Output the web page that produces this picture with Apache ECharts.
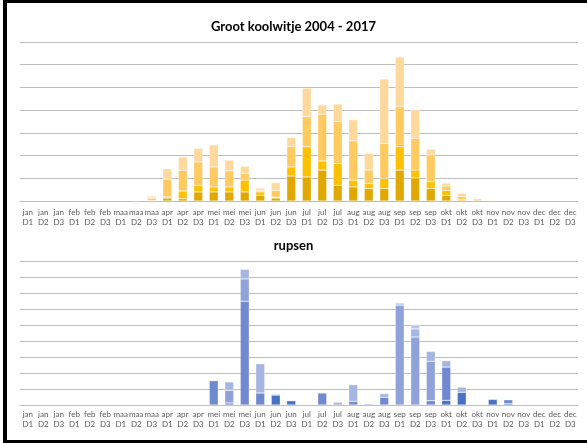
<!DOCTYPE html>
<html>
<head>
<meta charset="utf-8">
<script src="https://cdn.jsdelivr.net/npm/echarts@6/dist/echarts.min.js"></script>
<style>
html,body{margin:0;padding:0;background:#fff;}
#chart{width:587px;height:443px;}
</style>
</head>
<body>
<div id="chart"></div>
<script>
// Categories (decades per month)
const months = ['jan','feb','maa','apr','mei','jun','jul','aug','sep','okt','nov','dec'];
const decades = ['D1','D2','D3'];
const categories = [];
months.forEach(m => decades.forEach(d => categories.push(m + '\n' + d)));

// Groot koolwitje 2004 - 2017 (stacked bands, dark to light)
const vlinderDonker = [0,0,0, 0,0,0, 0,0,0.3, 1.3,1,4, 4,4,4, 2.5,1.3,11, 10.6,13.6,6.9, 6.2,5.5,5.5, 13.6,10.2,5.5, 2.5,0,0, 0,0,0, 0,0,0];
const vlinderGeel   = [0,0,0, 0,0,0, 0,0,0, 0.5,3.4,2.9, 2.2,2.2,5.2, 1.5,0.4,4, 13.3,4,9.6, 3,2.2,4.4, 10.3,3.4,3, 2.2,0.5,0, 0,0,0, 0,0,0];
const vlinderMidden = [0,0,0, 0,0,0, 0,0.1,1, 7.8,9.1,10.3, 8.8,7.1,2.9, 0.7,3,9, 13.3,20.6,18.4, 17.3,5.9,15.5, 17.7,14,11.8, 1.9,1.5,0, 0,0,0, 0,0,0];
const vlinderLicht  = [0,0,0, 0,0,0, 0,0.2,0.8, 4.6,5.9,6, 9.7,4.7,3.2, 1,3.4,4, 12.5,4.1,7.8, 9.3,7.4,28.3, 21.8,12.5,2.5, 1.3,1.4,1.0, 0.3,0,0, 0,0,0];

// rupsen (stacked bands, dark to light)
const rupsDonker    = [0,0,0, 0,0,0, 0,0,0, 0,0,0, 0,0,0, 0,6.2,2.7, 0,0,0, 0,0,0, 0,0,0, 2.9,7.9,0, 3.5,0.8,0, 0,0,0];
const rupsMidden    = [0,0,0, 0,0,0, 0,0,0, 0,0,0, 15.2,1.3,64.8, 7.5,0,0, 0,7.5,0, 2.3,0,4.8, 0,0,2.7, 20.8,0,0, 0,2.5,0, 0,0,0];
const rupsLichtMid  = [0,0,0, 0,0,0, 0,0,0, 0,0,0, 0,7.9,14, 0,0,0, 0,0,0, 0,0,0, 62.3,42.5,24.6, 0,0,0, 0,0,0, 0,0,0];
const rupsLicht     = [0,0,0, 0,0,0, 0,0,0, 0,0,0, 0,5.2,6, 18.3,0,0, 0,0,1.7, 10.4,0.8,2.3, 0,5,6.2, 4,3.3,0, 0,0,0, 0,0,0];
const rupsZeerLicht = [0,0,0, 0,0,0, 0,0,0, 0,0,0, 0,0,0, 0,0.7,0, 0,0,0, 0,0,0, 1.5,2.7,0, 0,0,0, 0,0,0, 0,0,0];

const topSeries = [
  {name:'a', data: vlinderDonker, color:'#E0A800'},
  {name:'b', data: vlinderGeel, color:'#FFC000'},
  {name:'c', data: vlinderMidden, color:'#FFCA60'},
  {name:'d', data: vlinderLicht, color:'#FFD99B'}
];
const botSeries = [
  {name:'e', data: rupsDonker, color:'#4A72C4'},
  {name:'f', data: rupsMidden, color:'#7189D0'},
  {name:'g', data: rupsLichtMid, color:'#8FA2DA'},
  {name:'h', data: rupsLicht, color:'#A6B5E2'},
  {name:'i', data: rupsZeerLicht, color:'#BCC8EA'}
];

const font = 'Lato, "Open Sans", sans-serif';
const chart = echarts.init(document.getElementById('chart'), null, {renderer:'canvas'});

function xAxis(gridIndex, margin) {
  return {
    type:'category', gridIndex, data: categories,
    axisTick:{show:false},
    axisLine:{lineStyle:{color:'#BDBDBD', width:1}},
    axisLabel:{interval:0, fontSize:8, color:'#595959', fontFamily:font, lineHeight:10.5, margin}
  };
}
function yAxis(gridIndex, max) {
  return {
    type:'value', gridIndex, min:0, max, interval:10,
    axisLabel:{show:false}, axisTick:{show:false}, axisLine:{show:false},
    splitLine:{lineStyle:{color:'#BDBDBD', width:1}}
  };
}
const noZero = arr => arr.map(v => v === 0 ? null : v);

const series = [];
topSeries.forEach(s => series.push({
  type:'bar', name:s.name, stack:'top', xAxisIndex:0, yAxisIndex:0, data:noZero(s.data),
  barCategoryGap:'42%', itemStyle:{color:s.color, borderColor:'rgba(255,255,255,0.6)', borderWidth:0.5},
  animation:false
}));
botSeries.forEach(s => series.push({
  type:'bar', name:s.name, stack:'bot', xAxisIndex:1, yAxisIndex:1, data:noZero(s.data),
  barCategoryGap:'42%', itemStyle:{color:s.color, borderColor:'rgba(255,255,255,0.6)', borderWidth:0.5},
  animation:false
}));

chart.setOption({
  animation:false,
  backgroundColor:'#fff',
  title:[
    {text:'Groot koolwitje 2004 - 2017', left:'center', top:15, textStyle:{fontSize:13, fontWeight:'bold', color:'#000', fontFamily:font}},
    {text:'rupsen', left:'center', top:234, textStyle:{fontSize:13, fontWeight:'bold', color:'#000', fontFamily:font}}
  ],
  grid:[
    {left:20, right:9, top:42, height:159},
    {left:20, right:9, top:261, height:144}
  ],
  xAxis:[xAxis(0, 6), xAxis(1, 4)],
  yAxis:[yAxis(0, 70), yAxis(1, 90)],
  series,
  graphic:[
    {type:'rect', shape:{x:3, y:0, width:4, height:443}, style:{fill:'#000'}},
    {type:'rect', shape:{x:3, y:0, width:584, height:3}, style:{fill:'#000'}},
    {type:'rect', shape:{x:3, y:440, width:584, height:3}, style:{fill:'#000'}}
  ]
});
</script>
</body>
</html>
